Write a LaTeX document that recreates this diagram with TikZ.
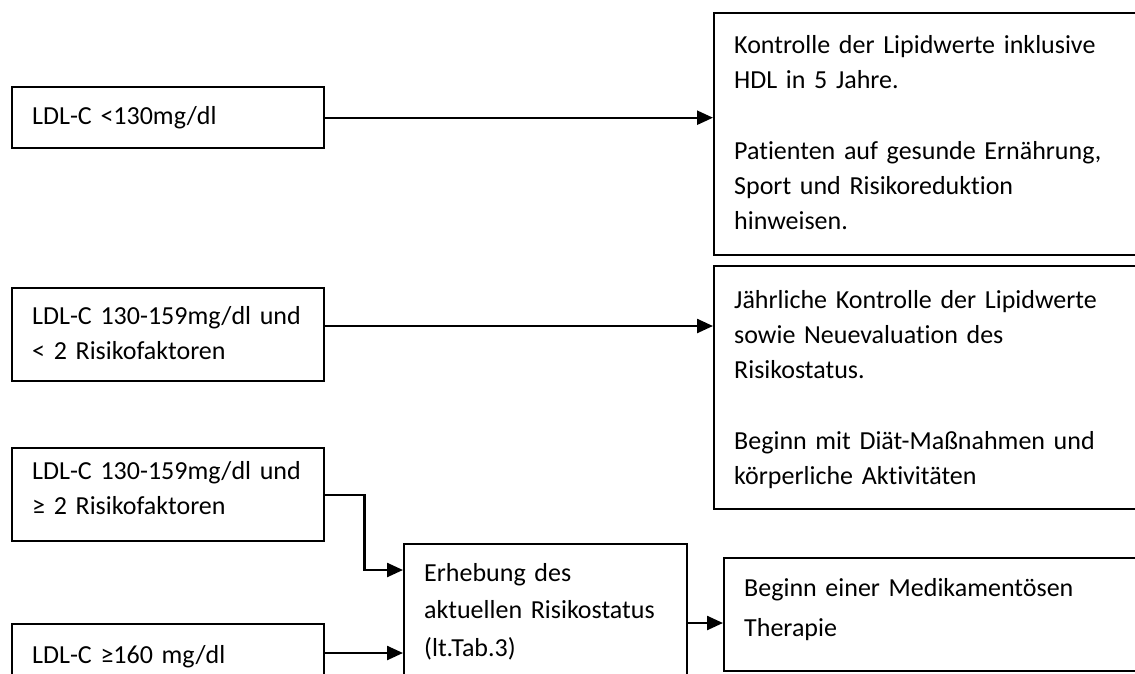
\documentclass[tikz,border=0pt]{standalone}
\usepackage{fontspec}
\setmainfont{Carlito}[Ligatures={NoCommon}]
\usetikzlibrary{positioning, arrows.meta}

\begin{document}
\begin{tikzpicture}[
        x=1pt, y=-1pt,
        every node/.style={draw, line width=2.4pt, rectangle, anchor=north west, align=left, inner xsep=20pt, inner ysep=0pt, font=\fontsize{26}{35}\selectfont},
        arrow/.style={line width=2.4pt, -{Triangle[length=16pt,width=14pt]}}
      ]
        \useasboundingbox (0,0) rectangle (1135,673);
        \clip (0,0) rectangle (1135,673);

        % Conditions (left column)
        \node (cond1) [text width=272pt, text height=37pt, text depth=24pt] at (11,86) {LDL-C <130mg/dl};
        \node (cond2) [text width=272pt, text height=36pt, text depth=57pt] at (11,287) {LDL-C 130-159mg/dl und\\< 2 Risikofaktoren};
        \node (cond3) [text width=272pt, text height=31pt, text depth=62pt] at (11,447) {LDL-C 130-159mg/dl und\\≥ 2 Risikofaktoren};
        \node (cond4) [text width=272pt, text height=39pt, text depth=40pt] at (11,623) {LDL-C ≥160 mg/dl};

        % Recommendations (right column)
        \node (res1) [text width=440pt, text height=40pt, text depth=202pt] at (713,12) {Kontrolle der Lipidwerte inklusive\\HDL in 5 Jahre.\\[36pt]Patienten auf gesunde Ernährung,\\Sport und Risikoreduktion\\hinweisen.};
        \node (res2) [text width=440pt, text height=42pt, text depth=201pt] at (713,265) {Jährliche Kontrolle der Lipidwerte\\sowie Neuevaluation des\\Risikostatus.\\[36pt]Beginn mit Diät-Maßnahmen und\\körperliche Aktivitäten};

        % Risk assessment and therapy
        \node (check) [text width=243pt, text height=37pt, text depth=110pt, font=\fontsize{26}{37.5}\selectfont] at (403,543) {Erhebung des\\aktuellen Risikostatus\\(lt.Tab.3)};
        \node (therapy) [text width=440pt, text height=38pt, text depth=75pt, font=\fontsize{26}{40}\selectfont] at (723,557) {Beginn einer Medikamentösen\\Therapie};

        \coordinate (in2) at ([yshift=-61pt]res2.north west);
        \coordinate (in3) at ([yshift=-27pt]check.north west);
        \coordinate (in4) at ([yshift=-110pt]check.north west);
        \coordinate (in5) at ([yshift=-66pt]therapy.north west);

        % Arrows
        \draw [arrow] (cond1.east) -- (cond1.east -| res1.west);
        \draw [arrow] (in2 -| cond2.east) -- (in2);
        \draw [arrow] (cond3.east) -- ([xshift=39pt]cond3.east) |- (in3);
        \draw [arrow] (in4 -| cond4.east) -- (in4);
        \draw [arrow] (in5 -| check.east) -- (in5);
      \end{tikzpicture}
\end{document}
